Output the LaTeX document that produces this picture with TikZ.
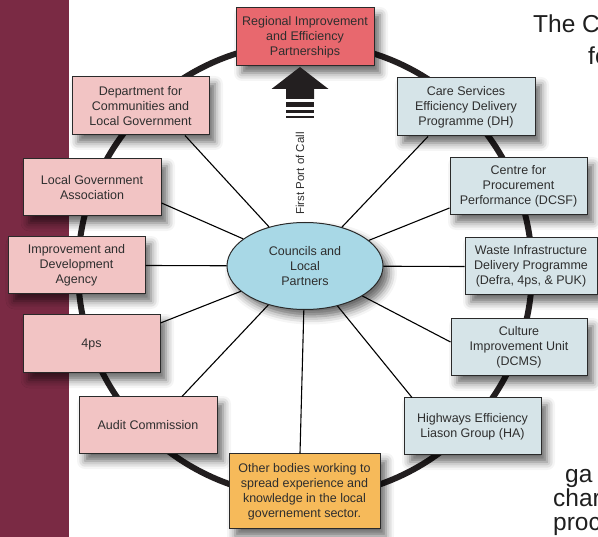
\documentclass[tikz,border=0pt]{standalone}
\usepackage{fontspec}
\setmainfont{Liberation Sans}
\usetikzlibrary{shapes.geometric,shadows.blur}
\definecolor{bandcol}{HTML}{7A2A44}
\definecolor{ringcol}{HTML}{231F20}
\definecolor{redfill}{HTML}{E8686E}
\definecolor{pinkfill}{HTML}{F2C4C4}
\definecolor{bluefill}{HTML}{D6E4E8}
\definecolor{orangefill}{HTML}{F6BA5A}
\definecolor{ellfill}{HTML}{A8D8E6}
\definecolor{txtgray}{HTML}{2E2E2E}
\definecolor{boxline}{HTML}{2A2A2A}
\begin{document}
\begin{tikzpicture}[x=1pt,y=-1pt,
  txt/.style={font=\fontsize{12.5}{15}\selectfont, text=txtgray, align=center},
  box/.style={txt, draw=boxline, line width=1pt, inner sep=0pt,
    blur shadow={shadow xshift=6pt, shadow yshift=-7pt, shadow blur radius=8pt, shadow opacity=60}},
  pinkbox/.style={box, fill=pinkfill},
  bluebox/.style={box, fill=bluefill},
  conn/.style={draw=black, line width=1.1pt},
  bgtext/.style={font=\fontsize{24.5}{29}\selectfont, text=black!88, anchor=base west, inner sep=0pt}
]
\useasboundingbox (0,0) rectangle (598,537);
\fill[bandcol] (0,0) rectangle (69,537);
\draw[line width=6pt, ringcol] (305,270) circle[radius=227];

% centre
\node[box, shape=ellipse, fill=ellfill, minimum width=156pt, minimum height=87pt] (c) at (305,266) {Councils and\\Local\\Partners};

% boxes
\node[box, fill=redfill, minimum width=138pt, minimum height=58pt] (rie) at (305,37) {Regional Improvement\\and Efficiency\\Partnerships};
\node[pinkbox, minimum width=137pt, minimum height=58pt] (dclg) at (140.5,106) {Department for\\Communities and\\Local Government};
\node[bluebox, minimum width=138pt, minimum height=58pt] (care) at (466,107) {Care Services\\Efficiency Delivery\\Programme (DH)};
\node[pinkbox, minimum width=138pt, minimum height=57pt] (lga) at (92,187.5) {Local Government\\Association};
\node[bluebox, minimum width=137pt, minimum height=57pt] (cpp) at (518.5,186.5) {Centre for\\Procurement\\Performance (DCSF)};
\node[pinkbox, minimum width=137pt, minimum height=57pt] (ida) at (76.5,265.5) {Improvement and\\Development\\Agency};
\node[bluebox, minimum width=132pt, minimum height=57pt] (widp) at (531,266.5) {Waste Infrastructure\\Delivery Programme\\(Defra, 4ps, \& PUK)};
\node[pinkbox, minimum width=137pt, minimum height=58pt] (fourps) at (91.5,344) {4ps};
\node[bluebox, minimum width=136pt, minimum height=57pt] (ciu) at (519,347.5) {Culture\\Improvement Unit\\(DCMS)};
\node[pinkbox, minimum width=138pt, minimum height=57pt] (audit) at (148,425.5) {Audit Commission};
\node[bluebox, minimum width=137pt, minimum height=57pt] (hwy) at (472.5,426.5) {Highways Efficiency\\Liason Group (HA)};
\node[box, fill=orangefill, minimum width=151pt, minimum height=75pt] (ob) at (304.5,491.5) {Other bodies working to\\spread experience and\\knowledge in the local\\governement sector.};

% connectors
\draw[conn] (c) -- ([xshift=44.5pt]dclg.south);
\draw[conn] (c) -- ([yshift=-15.5pt]lga.east);
\draw[conn] (c) -- (ida.east);
\draw[conn] (c) -- ([yshift=21pt]fourps.east);
\draw[conn] (c) -- ([xshift=34pt]audit.north);
\draw[conn] (c) -- ([xshift=-4.5pt]ob.north);
\draw[conn] (c) -- ([xshift=-38pt]care.south);
\draw[conn] (c) -- ([yshift=-21.5pt]cpp.west);
\draw[conn] (c) -- (widp.west);
\draw[conn] (c) -- ([yshift=5.5pt]ciu.west);
\draw[conn] (c) -- ([xshift=-60.5pt]hwy.north);

% first port of call arrow
\fill[ringcol] (300,67) -- (328.5,89) -- (314,89) -- (314,99) -- (286,99) -- (286,89) -- (271.5,89) -- cycle;
\fill[ringcol] (286,102.3) rectangle (314,107.3);
\fill[ringcol] (286,110) rectangle (314,113.3);
\fill[ringcol] (286,115.7) rectangle (314,118.3);
\node[font=\fontsize{11.5}{13}\selectfont, text=txtgray, rotate=90, inner sep=0pt] (fpc) at (300,173.5) {First Port of Call};

% page text cut by the edge, as in the reference
\node[bgtext] (t1) at (533,33) {The C};
\node[bgtext] (t2) at (588,65) {fo};
\node[bgtext] (t3) at (565,483) {ga};
\node[bgtext] (t4) at (553,507) {char};
\node[bgtext] (t5) at (553,531) {proc};
\end{tikzpicture}
\end{document}
